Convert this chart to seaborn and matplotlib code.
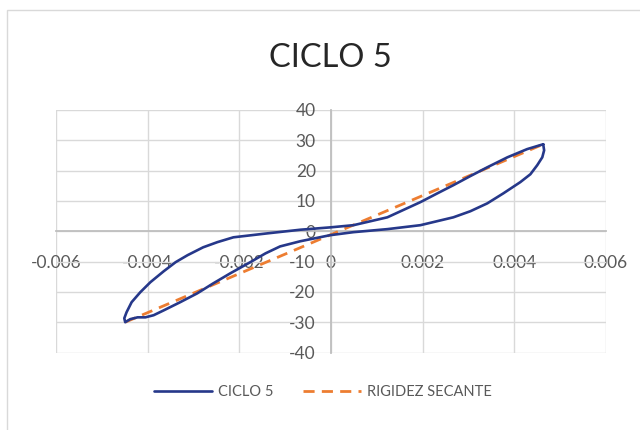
import matplotlib
matplotlib.use("Agg")
import matplotlib.pyplot as plt
import pandas as pd
import seaborn as sns
from matplotlib.patches import Rectangle

# Ciclo 5: desplazamiento (x) contra fuerza (y), recorrido cerrado
ciclo_x = [0.00463, 0.00465, 0.00461, 0.00450, 0.00435, 0.00413, 0.00376, 0.00341,
           0.00304, 0.00267, 0.00195, 0.00123, 0.00049, -0.00002,
           -0.00067, -0.00111, -0.00143, -0.00176, -0.00220, -0.00257, -0.00292,
           -0.00329, -0.00365, -0.00387, -0.00405, -0.00422, -0.00438, -0.00449,
           -0.00451, -0.00446, -0.00435, -0.00416, -0.00394, -0.00365, -0.00339,
           -0.00313, -0.00279, -0.00248, -0.00213, -0.00139, -0.00067, 0.0,
           0.00049, 0.00123, 0.00195, 0.00232, 0.00267, 0.00304, 0.00341,
           0.00385, 0.00428, 0.00463]
ciclo_y = [28.7, 26.7, 24.4, 21.8, 18.8, 16.2, 12.5, 9.2,
           6.6, 4.6, 2.0, 0.7, -0.3, -1.3,
           -3.3, -5.0, -7.3, -10.2, -13.9, -17.2, -20.5,
           -23.4, -26.1, -27.7, -28.4, -28.4, -29.0, -30.0,
           -28.7, -26.7, -23.4, -20.1, -16.8, -13.2, -10.2,
           -7.9, -5.3, -3.6, -2.0, -0.7, 0.5, 1.3,
           2.0, 4.6, 9.6, 12.5, 15.2, 18.2, 21.1,
           24.4, 27.1, 28.7]

# Rigidez secante: recta entre los picos del ciclo
secante_x = [-0.00449, 0.00463]
secante_y = [-30.0, 28.7]

x_ticks = [-0.006, -0.004, -0.002, 0.0, 0.002, 0.004, 0.006]
x_labels = ["-0.006", "-0.004", "-0.002", "0", "0.002", "0.004", "0.006"]
y_ticks = [-40, -30, -20, -10, 0, 10, 20, 30, 40]
y_labels = ["-40", "-30", "-20", "-10", "0", "10", "20", "30", "40"]

sns.set_theme(style="white")
plt.rcParams["font.family"] = ["Lato", "DejaVu Sans"]

W, H = 640, 430
fig = plt.figure(figsize=(W / 100, H / 100), dpi=100)
fig.patch.set_facecolor("white")

# marco del área del gráfico
fig.patches.append(Rectangle((7 / W, -0.1), 1.2, (H - 10) / H + 0.1,
                             transform=fig.transFigure, fill=False,
                             edgecolor="#d9d9d9", linewidth=1.0, zorder=0))

ax = fig.add_axes([56 / W, (H - 352.5) / H, (606 - 56) / W, (352.5 - 110) / H])
ax.set_facecolor("white")

df_ciclo = pd.DataFrame({"x": ciclo_x, "y": ciclo_y})
df_sec = pd.DataFrame({"x": secante_x, "y": secante_y})

sns.lineplot(data=df_ciclo, x="x", y="y", sort=False, estimator=None, ax=ax,
             color="#26388a", linewidth=1.9, label="CICLO 5", zorder=4,
             solid_joinstyle="round", solid_capstyle="round")
sns.lineplot(data=df_sec, x="x", y="y", sort=False, estimator=None, ax=ax,
             color="#ed7d31", linewidth=2.0, label="RIGIDEZ SECANTE", zorder=3)
sec_line = ax.get_lines()[1]
sec_line.set_dashes((4.0, 2.6))

ax.set_xlim(-0.006, 0.006)
ax.set_ylim(-40, 40)
ax.set_xticks(x_ticks)
ax.set_xticklabels(x_labels)
ax.set_yticks(y_ticks)
ax.set_yticklabels(y_labels)
ax.set_xlabel("")
ax.set_ylabel("")

ax.grid(True, color="#d9d9d9", linewidth=1.0, zorder=0)
ax.set_axisbelow(True)
for s in ("top", "right"):
    ax.spines[s].set_visible(False)
for s in ("left", "bottom"):
    ax.spines[s].set_position(("data", 0))
    ax.spines[s].set_color("#bfbfbf")
    ax.spines[s].set_linewidth(1.3)
    ax.spines[s].set_zorder(1)

ax.tick_params(axis="x", length=0, pad=17, labelsize=12.5, labelcolor="#595959")
ax.tick_params(axis="y", length=0, pad=11, labelsize=12.5, labelcolor="#595959")

ax.legend_.remove()
handles, labels = ax.get_legend_handles_labels()
fig.legend(handles, labels, loc="center", bbox_to_anchor=(323 / W, 1 - 392 / H),
           ncol=2, frameon=False, fontsize=10.5, labelcolor="#595959",
           handlelength=4.0, handletextpad=0.4, columnspacing=2.0)

fig.text(330 / W, 1 - 58 / H, "CICLO 5", ha="center", va="center",
         fontsize=23.5, color="#262626")

fig.savefig("out.png", dpi=100, facecolor="white")
